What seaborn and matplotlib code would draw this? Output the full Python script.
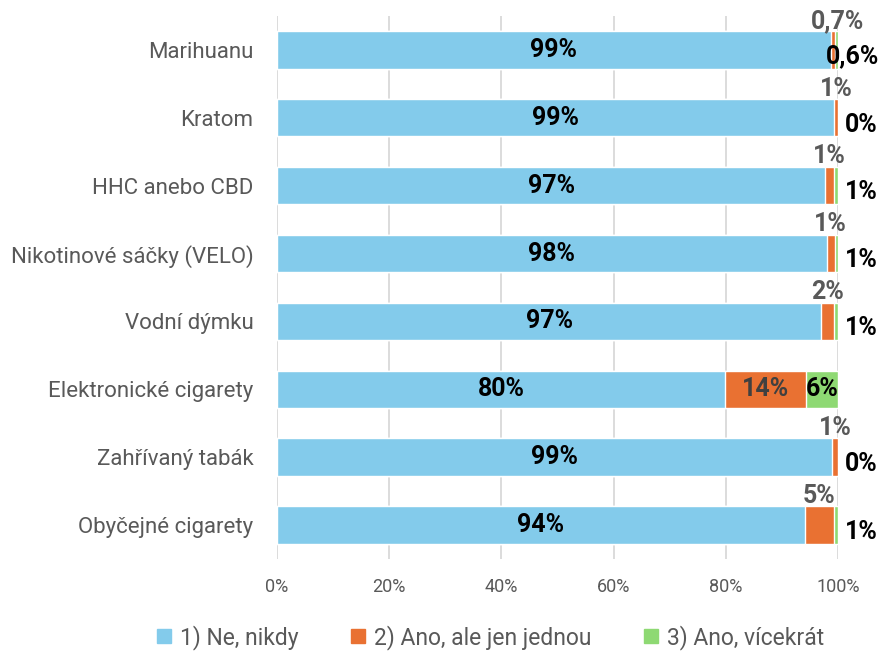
import matplotlib
matplotlib.use("Agg")
import matplotlib.pyplot as plt
import matplotlib.patches as mpatches
import numpy as np
import pandas as pd
import seaborn as sns

# ── Data ─────────────────────────────────────────────────────────────────────
kategorie = [
    "Marihuanu",
    "Kratom",
    "HHC anebo CBD",
    "Nikotinové sáčky (VELO)",
    "Vodní dýmku",
    "Elektronické cigarety",
    "Zahřívaný tabák",
    "Obyčejné cigarety",
]
ne_nikdy = [98.7, 99.3, 97.7, 98.0, 97.0, 79.9, 98.9, 94.1]
ano_jednou = [0.7, 0.7, 1.6, 1.4, 2.3, 14.4, 1.1, 5.2]
ano_vicekrat = [0.6, 0.0, 0.7, 0.6, 0.7, 5.7, 0.0, 0.7]

popisky_ne = ["99%", "99%", "97%", "98%", "97%", "80%", "99%", "94%"]
popisky_jednou = ["0,7%", "1%", "1%", "1%", "2%", "14%", "1%", "5%"]
popisky_vicekrat = ["0,6%", "0%", "1%", "1%", "1%", "6%", "0%", "1%"]

serie = ["1) Ne, nikdy", "2) Ano, ale jen jednou", "3) Ano, vícekrát"]
barvy = ["#83CBEB", "#E97132", "#8ED973"]

# ── Plot ─────────────────────────────────────────────────────────────────────
sns.set_style("white")
plt.rcParams["font.family"] = ["Roboto", "DejaVu Sans"]

df = pd.DataFrame({
    "kat": kategorie,
    "s1": ne_nikdy,
    "s2": ano_jednou,
    "s3": ano_vicekrat,
})
df["c1"] = df["s1"]
df["c2"] = df["s1"] + df["s2"]
df["c3"] = df["c2"] + df["s3"]

fig = plt.figure(figsize=(8.87, 6.55), dpi=100)
ax = fig.add_axes([0.3123, 0.1466, 0.6325, 0.829])

# gridlines behind bars
for xv in range(0, 101, 20):
    ax.axvline(xv, color="#D9D9D9", linewidth=1.3, zorder=0)

# stacked bars: cumulative totals drawn from the outermost layer inward
sirka = 0.55
for col, barva in zip(["c3", "c2", "c1"], barvy[::-1]):
    sns.barplot(data=df, x=col, y="kat", orient="h", color=barva,
                width=sirka, saturation=1, ax=ax, zorder=2)

# labels
fs = 18
for i in range(len(kategorie)):
    s1, s2, s3 = ne_nikdy[i], ano_jednou[i], ano_vicekrat[i]
    ax.text(s1 / 2, i, popisky_ne[i], ha="center", va="center",
            fontsize=fs, fontweight="bold", color="black", zorder=3)
    if s2 > 8:
        ax.text(s1 + s2 / 2, i, popisky_jednou[i], ha="center", va="center",
                fontsize=fs, fontweight="bold", color="#404040", zorder=3)
        ax.text(s1 + s2 + s3 / 2, i, popisky_vicekrat[i], ha="center",
                va="center", fontsize=fs, fontweight="bold", color="black",
                zorder=3)
    else:
        x_or = s1 + s2 / 2
        x_gr = 104.2
        if i == 0:
            x_or += 0.8
            x_gr = 102.6
        ax.text(x_or, i - 0.43, popisky_jednou[i], ha="center",
                va="center", fontsize=fs, fontweight="bold", color="#595959",
                zorder=3, clip_on=False)
        ax.text(x_gr, i + 0.1, popisky_vicekrat[i], ha="center",
                va="center", fontsize=fs, fontweight="bold", color="black",
                zorder=3, clip_on=False)

ax.set_xlim(0, 100)
ax.set_ylim(len(kategorie) - 0.5, -0.5)
ax.set_xticks(range(0, 101, 20))
ax.set_xticklabels([f"{v}%" for v in range(0, 101, 20)])
ax.set_xlabel("")
ax.set_ylabel("")
ax.tick_params(axis="x", length=0, pad=14, labelsize=13, labelcolor="#595959")
ax.tick_params(axis="y", length=0, pad=17, labelsize=16, labelcolor="#595959")
for s in ax.spines.values():
    s.set_visible(False)

legenda = [mpatches.Patch(color=b, label=l) for b, l in zip(barvy, serie)]
fig.legend(handles=legenda, loc="center", bbox_to_anchor=(0.553, 0.027),
           ncol=3, frameon=False, fontsize=16.5, labelcolor="#595959",
           handlelength=0.6, handleheight=0.6, handletextpad=0.4,
           columnspacing=2.3)

fig.savefig("out.png", dpi=100, facecolor="white")
